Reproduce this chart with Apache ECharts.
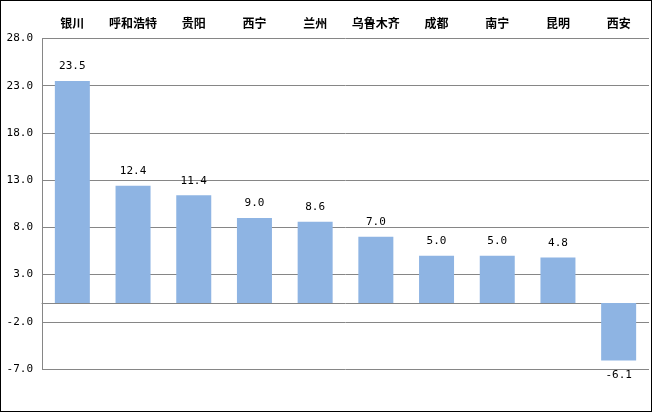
<!DOCTYPE html>
<html><head><meta charset="utf-8">
<script src="https://cdn.jsdelivr.net/npm/echarts@6/dist/echarts.min.js"></script>
<style>html,body{margin:0;padding:0;background:#fff}#c{width:652px;height:412px;box-sizing:border-box;border:1px solid #000}</style>
</head><body><div id="c"></div>
<script>
const categories = ['银川','呼和浩特','贵阳','西宁','兰州','乌鲁木齐','成都','南宁','昆明','西安'];
const values = [23.5, 12.4, 11.4, 9.0, 8.6, 7.0, 5.0, 5.0, 4.8, -6.1];
const yMin = -7, yMax = 28, yStep = 5;

const chart = echarts.init(document.getElementById('c'));
chart.setOption({
  animation: false,
  grid: {left: 41, right: 2, top: 37.5, bottom: 42},
  xAxis: [{
    type: 'category', data: categories, position: 'top',
    axisLine: {show: false, onZero: false}, axisTick: {show: false},
    axisLabel: {interval: 0, color: '#000', fontWeight: 'bold', fontSize: 12, fontFamily: 'Noto Sans CJK SC', margin: 9}
  }, {
    type: 'category', data: categories,
    axisLine: {show: true, onZero: true, lineStyle: {color: '#868686', width: 1}},
    axisTick: {show: false}, axisLabel: {show: false}
  }],
  yAxis: {
    type: 'value', min: yMin, max: yMax, interval: yStep,
    axisLine: {show: true, lineStyle: {color: '#868686'}},
    axisTick: {show: false},
    splitLine: {lineStyle: {color: '#868686', width: 1}},
    axisLabel: {color: '#000', fontSize: 11, fontFamily: 'DejaVu Sans Mono', margin: 9,
      formatter: v => v.toFixed(1)}
  },
  series: [{
    type: 'bar', xAxisIndex: 0, barWidth: 35,
    data: values.map(v => v < 0 ? {value: v, label: {position: 'bottom'}} : v),
    itemStyle: {color: '#8EB4E3'},
    label: {show: true, position: 'top', distance: 9, color: '#000', fontSize: 11,
      fontFamily: 'DejaVu Sans Mono', formatter: p => p.value.toFixed(1)}
  }]
});
</script></body></html>
